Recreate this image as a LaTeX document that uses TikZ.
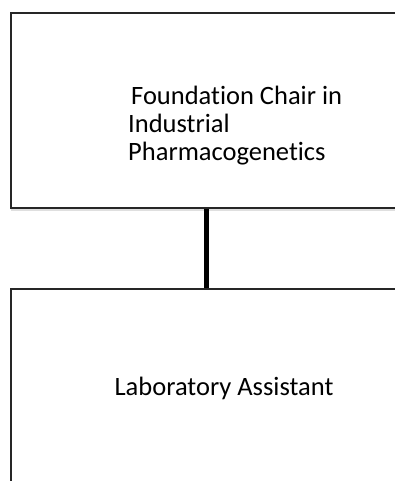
\documentclass[tikz,border=0pt]{standalone}
\usepackage{fontspec}
\setmainfont[Ligatures=NoCommon]{Carlito}
\usetikzlibrary{shadows}
\begin{document}
\begin{tikzpicture}[x=1pt,y=-1pt,
  box/.style={draw=black!85,line width=1.5pt,fill=white,inner sep=0pt,
    drop shadow={shadow xshift=0pt,shadow yshift=-2.5pt,opacity=0.25}},
  lbl/.style={font=\fontsize{26.5}{28}\selectfont,inner sep=0pt,text=black},
  conn/.style={line width=5pt,black}]
\useasboundingbox (0,0) rectangle (395,481);
\clip (0,0) rectangle (395,481);
\fill[white] (0,0) rectangle (395,481);
\node[box,minimum width=409pt,minimum height=195pt] (top) at (215.5,110.5) {};
\node[box,minimum width=409pt,minimum height=251pt] (bot) at (215.5,414.5) {};
\coordinate (cx) at (206,0);
\draw[conn] (top.south -| cx) -- (bot.north -| cx);
\node[lbl,align=left,anchor=west] (t1) at (128,126) {\hspace{3pt}Foundation Chair in\\Industrial\\Pharmacogenetics};
\node[lbl] (t2) at (224,388) {Laboratory Assistant};
\end{tikzpicture}
\end{document}
